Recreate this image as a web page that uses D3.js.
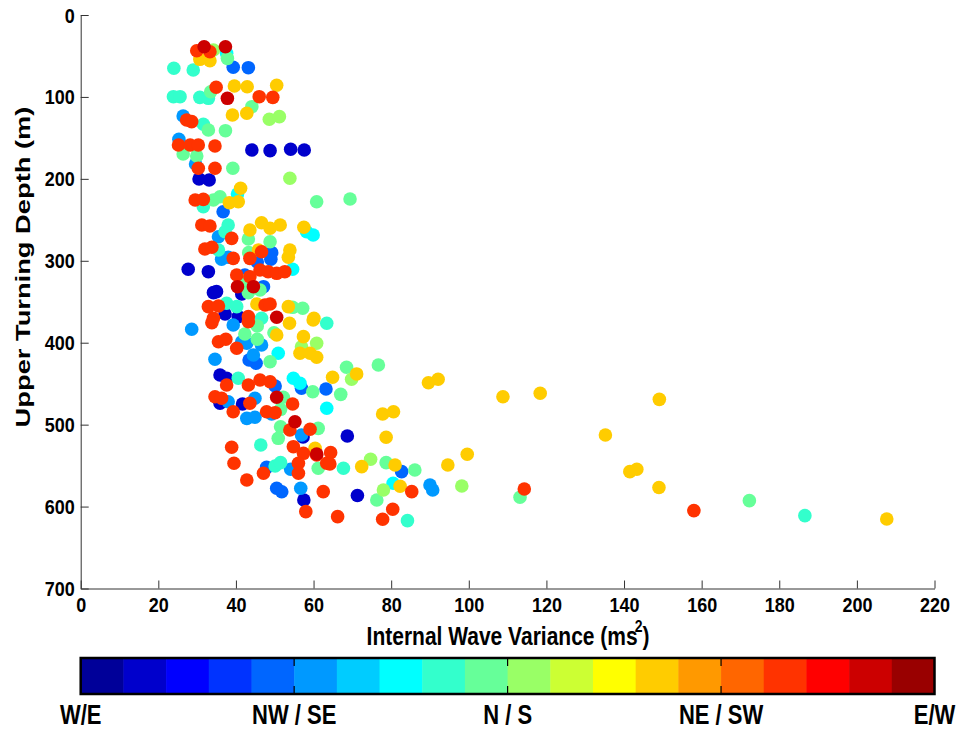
<!DOCTYPE html>
<html>
<head>
<meta charset="utf-8">
<script src="https://cdn.jsdelivr.net/npm/d3@7"></script>
<style>
  body { margin: 0; background: #fff; }
  text { font-family: 'Liberation Sans', Arial, sans-serif; font-weight: bold; fill: #000; }
</style>
</head>
<body>
<div class="vis-scatter"></div>
<script>
// direction colormap (jet, 20 bins)
const binColors = ['#000099', '#0000cc', '#0000ff', '#0033ff', '#0066ff', '#0099ff', '#00ccff', '#00ffff', '#33ffcc', '#66ff99',
    '#99ff66', '#ccff33', '#ffff00', '#ffcc00', '#ff9900', '#ff6600', '#ff3300', '#ff0000', '#cc0000', '#990000'];
const dirLabels = ['W/E', 'NW / SE', 'N / S', 'NE / SW', 'E/W'];
const xTicks = [0, 20, 40, 60, 80, 100, 120, 140, 160, 180, 200, 220];
const yTicks = [0, 100, 200, 300, 400, 500, 600, 700];

// [variance, upper turning depth] per direction bin
const bin2 = [[44.1, 164.8], [48.8, 165.6], [54.1, 163.9], [57.6, 164.8], [30.5, 200.2], [33.1, 201.4], [27.7, 310.4], [32.9, 313.3],
    [34.2, 338.9], [35.0, 337.7], [41.5, 340.5], [37.2, 364.9], [40.6, 368.2], [35.9, 439.4], [37.6, 443.4], [35.9, 473.9],
    [41.7, 474.8], [57.3, 515.1], [57.5, 591.9], [71.3, 586.5], [68.7, 513.9]];
const bin5 = [[39.3, 63.8], [43.2, 64.3], [36.7, 240.1], [45.5, 301.5], [49.0, 298.2], [49.2, 290.1], [42.3, 317.3], [47.1, 331.6],
    [43.4, 421.1], [45.2, 425.1], [50.1, 452.8], [56.9, 455.6], [63.2, 456.5], [47.9, 552.1], [50.5, 577.7], [51.8, 581.9], [82.7, 557.4]];
const bin6 = [[26.4, 123.3], [25.3, 151.7], [29.6, 181.9], [35.5, 270.6], [36.3, 298.2], [38.0, 295.7], [28.6, 383.6], [39.3, 378.4],
    [41.5, 398.8], [42.8, 400.7], [46.6, 402.8], [44.5, 415.0], [34.6, 420.2], [38.0, 472.0], [44.9, 467.8], [42.8, 492.3],
    [44.9, 491.0], [49.2, 487.0], [56.9, 512.6], [54.1, 554.5], [56.7, 577.7], [90.0, 573.7], [90.7, 579.8]];
const bin8 = [[37.6, 46.7], [40.4, 218.5], [58.2, 264.5], [59.9, 268.5], [54.6, 310.4], [50.9, 412.9], [54.8, 443.4], [56.5, 449.5],
    [63.4, 480.0], [80.5, 571.6]];
const bin9 = [[24.0, 65.0], [29.0, 67.1], [23.9, 99.7], [25.6, 99.7], [30.7, 100.5], [32.9, 101.7], [31.6, 133.4], [31.6, 234.0],
    [38.0, 256.3], [37.2, 264.5], [35.5, 286.8], [37.6, 351.9], [40.2, 356.0], [46.6, 370.2], [63.4, 376.3], [40.6, 443.4],
    [46.4, 524.8], [50.1, 550.5], [51.5, 546.4], [67.7, 553.3], [84.2, 617.2], [186.6, 611.1]];
const bin10 = [[37.8, 52.9], [33.5, 93.6], [44.1, 111.9], [32.9, 140.4], [37.3, 141.2], [26.4, 169.7], [29.9, 172.1], [39.2, 187.1],
    [34.2, 225.8], [35.9, 221.8], [60.8, 227.9], [69.4, 224.6], [43.2, 273.4], [48.8, 276.7], [43.3, 290.1], [42.1, 324.3],
    [43.2, 338.9], [46.2, 335.7], [54.6, 356.8], [57.2, 358.0], [42.3, 389.4], [45.5, 379.6], [45.5, 395.8], [49.8, 387.8],
    [48.8, 423.2], [59.8, 459.8], [52.2, 466.6], [51.5, 481.3], [51.5, 502.5], [50.9, 516.7], [61.2, 504.5], [61.2, 553.3],
    [68.5, 430.0], [76.7, 427.2], [67.0, 463.0], [78.7, 546.4], [86.1, 555.3], [76.3, 592.0], [113.2, 588.7], [172.3, 592.8]];
const bin11 = [[34.2, 42.7], [48.6, 127.3], [51.2, 124.1], [53.9, 199.3], [56.9, 404.9], [60.8, 400.7], [69.8, 444.6], [74.7, 542.3],
    [78.0, 579.8], [98.2, 574.9]];
const bin14 = [[30.7, 54.1], [33.3, 55.8], [39.6, 86.7], [42.9, 87.5], [50.5, 85.8], [39.1, 122.1], [42.8, 120.0], [38.3, 229.1],
    [40.6, 227.9], [41.2, 211.5], [43.6, 262.4], [46.6, 253.5], [48.8, 260.3], [51.4, 256.3], [45.8, 286.8], [53.9, 286.8],
    [53.5, 295.7], [57.5, 259.1], [45.4, 352.7], [53.5, 356.0], [60.1, 370.2], [53.8, 376.3], [59.9, 372.3], [50.5, 390.6],
    [57.4, 392.6], [56.5, 412.9], [59.1, 412.9], [60.8, 417.8], [60.4, 528.9], [64.9, 442.2], [71.1, 438.1], [89.6, 448.8],
    [92.1, 444.6], [108.8, 465.9], [118.4, 461.7], [149.1, 469.1], [77.8, 487.0], [80.6, 484.2], [78.7, 515.4], [72.4, 551.3],
    [81.0, 549.3], [94.6, 549.3], [99.6, 536.2], [82.3, 575.2], [135.2, 512.6], [141.5, 557.4], [143.3, 554.5], [149.0, 576.7],
    [207.7, 615.2]];
const bin17 = [[29.9, 43.6], [33.3, 44.8], [34.9, 88.2], [46.0, 99.7], [49.5, 100.5], [27.3, 128.2], [28.6, 130.2], [25.2, 158.7],
    [28.2, 158.7], [30.3, 158.7], [34.6, 159.9], [30.3, 187.1], [34.6, 187.1], [29.5, 225.8], [31.6, 225.0], [31.2, 256.3],
    [33.3, 257.5], [38.9, 272.6], [32.0, 285.6], [33.8, 283.5], [39.3, 297.0], [43.6, 297.0], [46.6, 288.9], [46.2, 311.2],
    [48.3, 313.3], [50.5, 315.3], [52.6, 313.3], [40.2, 317.3], [43.6, 319.4], [32.9, 356.0], [35.5, 355.2], [47.5, 354.0],
    [48.8, 352.7], [34.2, 370.2], [43.2, 368.2], [33.8, 375.6], [35.5, 398.8], [37.4, 395.8], [43.2, 374.3], [40.2, 406.8],
    [37.6, 451.6], [43.2, 451.6], [46.2, 445.5], [48.8, 447.6], [34.6, 465.9], [36.3, 467.8], [43.6, 473.9], [47.9, 484.2],
    [50.1, 485.4], [39.3, 484.2], [54.6, 474.8], [53.9, 506.5], [59.1, 505.7], [38.9, 527.6], [54.8, 526.9], [57.4, 535.0],
    [60.8, 537.0], [39.5, 547.2], [42.8, 567.6], [47.1, 559.4], [56.1, 547.2], [56.1, 559.4], [62.5, 581.8], [63.4, 547.2],
    [58.0, 606.2], [66.2, 612.3], [80.4, 603.3], [77.8, 615.5], [85.3, 581.8], [64.4, 534.2], [64.2, 548.0], [114.3, 578.6],
    [158.0, 605.0]];
const bin19 = [[31.8, 38.7], [37.3, 38.7], [37.8, 101.7], [40.4, 331.6], [44.5, 331.6], [50.5, 369.0], [50.5, 466.6], [55.2, 496.4],
    [60.8, 535.8]];

const series = [
    {bin: 2, pts: bin2}, {bin: 5, pts: bin5}, {bin: 6, pts: bin6}, {bin: 8, pts: bin8}, {bin: 9, pts: bin9},
    {bin: 10, pts: bin10}, {bin: 11, pts: bin11}, {bin: 14, pts: bin14}, {bin: 17, pts: bin17}, {bin: 19, pts: bin19},
];

const W = 960, H = 729;
const plot = {left: 80.7, right: 934.5, top: 15, bottom: 588.5};

const svg = d3.select('.vis-scatter')
    .append('svg')
    .attr('width', W)
    .attr('height', H);

const x = d3.scaleLinear().domain([0, 220]).range([plot.left, plot.right]);
const y = d3.scaleLinear().domain([0, 700]).range([plot.top, plot.bottom]);

// points
const points = series.flatMap(s => s.pts.map(p => ({v: p[0], d: p[1], bin: s.bin})));
svg.append('g')
    .selectAll('circle')
    .data(points)
    .enter()
    .append('circle')
    .attr('cx', d => x(d.v))
    .attr('cy', d => y(d.d))
    .attr('r', 6.8)
    .attr('fill', d => binColors[d.bin - 1]);

// axes, ticks point inward
const xAxis = svg.append('g')
    .attr('transform', 'translate(0,' + plot.bottom + ')')
    .call(d3.axisBottom(x).tickValues(xTicks).tickSize(-8).tickSizeOuter(0));
xAxis.selectAll('text')
    .attr('y', 0).attr('dy', null)
    .attr('transform', 'translate(0,23.5) scale(1,1.15)')
    .style('font-size', '18px');

const yAxis = svg.append('g')
    .attr('transform', 'translate(' + plot.left + ',0)')
    .call(d3.axisLeft(y).tickValues(yTicks).tickSize(-8).tickSizeOuter(0));
yAxis.selectAll('text')
    .attr('x', 0).attr('dy', null)
    .attr('transform', 'translate(-6,7) scale(1,1.15)')
    .style('font-size', '18px');

svg.selectAll('.domain, .tick line').attr('stroke', '#333');

// axis titles
const xt = svg.append('text')
    .attr('text-anchor', 'middle')
    .attr('transform', 'translate(508,645) scale(1,1.2)')
    .style('font-size', '21px');
xt.append('tspan').text('Internal Wave Variance (ms');
xt.append('tspan').text('2').attr('dx', -3).attr('dy', -11).style('font-size', '14px');
xt.append('tspan').text(')').attr('dy', 11);

svg.append('text')
    .attr('text-anchor', 'middle')
    .attr('transform', 'translate(30,267) rotate(-90) scale(1.3,1)')
    .style('font-size', '21px')
    .text('Upper Turning Depth (m)');

// colorbar
const cb = {top: 658, bottom: 694};
const cx = d3.scaleLinear().domain([0, binColors.length]).range([plot.left, plot.right]);
const cbar = svg.append('g');
cbar.selectAll('rect')
    .data(binColors)
    .enter()
    .append('rect')
    .attr('x', (d, i) => cx(i))
    .attr('y', cb.top)
    .attr('width', (d, i) => cx(i + 1) - cx(i) + 0.5)
    .attr('height', cb.bottom - cb.top)
    .attr('fill', d => d);

const labelPos = [0, 5, 10, 15, 20];
cbar.selectAll('.cb-tick')
    .data(labelPos.slice(1, -1))
    .enter()
    .append('path')
    .attr('class', 'cb-tick')
    .attr('d', d => 'M' + cx(d) + ',' + cb.top + 'v8M' + cx(d) + ',' + cb.bottom + 'v-8')
    .attr('stroke', '#000')
    .attr('stroke-width', 1.2);

cbar.append('rect')
    .attr('x', plot.left)
    .attr('y', cb.top)
    .attr('width', plot.right - plot.left)
    .attr('height', cb.bottom - cb.top)
    .attr('fill', 'none')
    .attr('stroke', '#000')
    .attr('stroke-width', 2.5);

cbar.selectAll('.cb-label')
    .data(dirLabels)
    .enter()
    .append('text')
    .attr('class', 'cb-label')
    .attr('text-anchor', 'middle')
    .attr('transform', (d, i) => 'translate(' + cx(labelPos[i]) + ',724) scale(1,1.25)')
    .style('font-size', '22px')
    .text(d => d);
</script>
</body>
</html>
